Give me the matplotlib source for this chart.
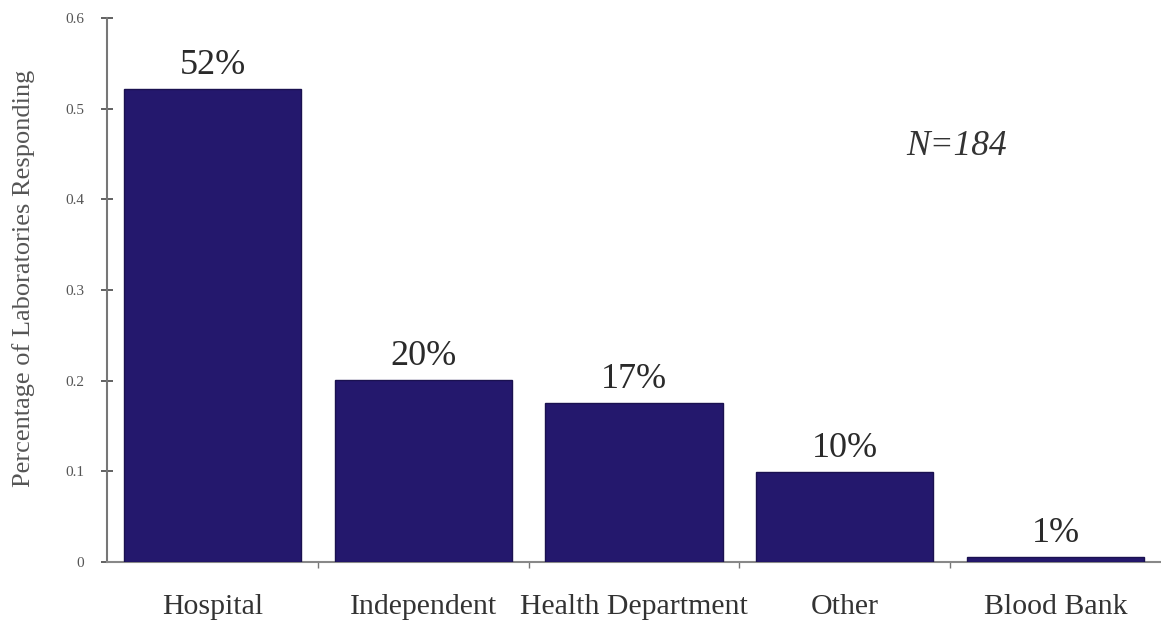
import matplotlib
matplotlib.use("Agg")
import matplotlib.pyplot as plt
import numpy as np

categories = ["Hospital", "Independent", "Health Department", "Other", "Blood Bank"]
values = [0.522, 0.201, 0.175, 0.099, 0.006]
labels = ["52%", "20%", "17%", "10%", "1%"]
yticks = [0, 0.1, 0.2, 0.3, 0.4, 0.5, 0.6]
ytick_labels = ["0", "0.1", "0.2", "0.3", "0.4", "0.5", "0.6"]

plt.rcParams['font.family'] = ['Liberation Serif', 'DejaVu Serif']

fig = plt.figure(figsize=(11.61, 6.22), dpi=100)
ax = fig.add_axes([0.0922, 0.0965, 0.9078, 0.8745])

x = np.arange(len(categories))
bar_color = '#24186d'
ax.bar(x, values, width=0.84, color=bar_color, edgecolor='#1a1150', linewidth=1.0, zorder=3)

for xi, v, lab in zip(x, values, labels):
    ax.annotate(lab, (xi, v), xytext=(0, 5), textcoords='offset points',
                ha='center', va='bottom', fontsize=26, color='#2a2a2a')

ax.set_xlim(-0.5, 4.5)
ax.set_ylim(0, 0.6)

ax.set_yticks(yticks)
ax.set_yticklabels(ytick_labels, fontsize=11, color='#555555')
ax.tick_params(axis='y', direction='inout', length=9, width=1.3, color='#555555', pad=12)

ax.set_xticks(x)
ax.set_xticklabels(categories, fontsize=21.5, color='#333333')
ax.tick_params(axis='x', which='major', length=0, pad=23)
ax.set_xticks([0.5, 1.5, 2.5, 3.5], minor=True)
ax.tick_params(axis='x', which='minor', direction='out', length=4, width=1, color='#777777')

for side in ['top', 'right']:
    ax.spines[side].set_visible(False)
ax.spines['left'].set_color('#777777')
ax.spines['left'].set_linewidth(1.5)
ax.spines['bottom'].set_color('#888888')
ax.spines['bottom'].set_linewidth(1.5)

ax.set_ylabel("Percentage of Laboratories Responding", fontsize=19, color='#555555')
ax.yaxis.set_label_coords(-0.068, 0.522)

ax.text(3.53, 0.458, "N=184", fontsize=25.5, style='italic', color='#333333', ha='center', va='center')

fig.savefig("out.png", dpi=100)
